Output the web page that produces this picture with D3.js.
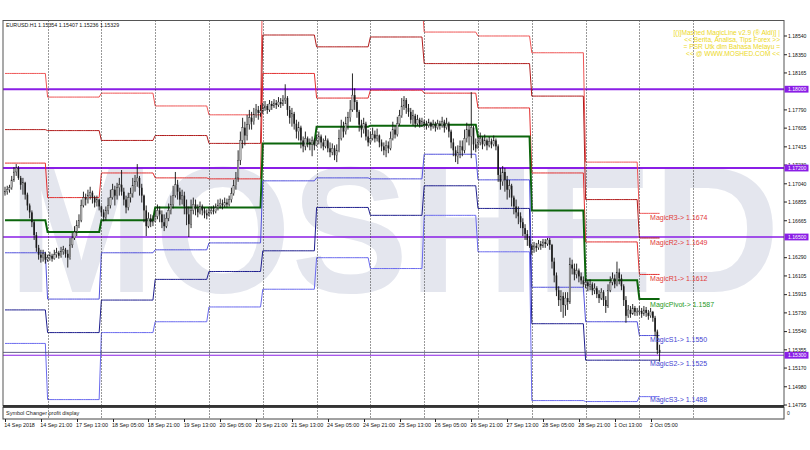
<!DOCTYPE html>
<html><head><meta charset="utf-8">
<script src="https://cdn.jsdelivr.net/npm/d3@7"></script>
<style>body{margin:0;background:#fff}svg{display:block}text{font-family:"Liberation Sans",Arial,sans-serif}</style>
</head><body><svg id="c" width="810" height="450"></svg>
<script>
const symbol = "EURUSD.H1";
const firstOpen = 1.1694;
const closes = [
1.1696,1.1698,1.1700,1.1708,1.1716,1.1720,1.1710,1.1703,1.1705,1.1693,1.1682,1.1675,1.1665,1.1652,1.1639,1.1632,1.1629,1.1633,1.1627,
1.1629,1.1631,1.1628,1.1632,1.1634,1.1631,1.1635,1.1637,1.1633,1.1629,1.1642,1.1649,1.1655,1.1662,1.1667,1.1682,1.1690,1.1688,1.1692,1.1695,1.1690,1.1685,1.1688,1.1681,
1.1675,1.1670,1.1677,1.1682,1.1690,1.1698,1.1692,1.1700,1.1703,1.1696,1.1688,1.1680,1.1690,1.1694,1.1702,1.1706,1.1710,1.1700,1.1692,1.1677,1.1661,1.1669,1.1665,1.1666,
1.1671,1.1677,1.1673,1.1665,1.1661,1.1669,1.1677,1.1683,1.1692,1.1703,1.1696,1.1688,1.1692,1.1681,1.1673,1.1663,1.1677,1.1683,1.1679,1.1675,1.1681,1.1677,1.1674,1.1672,
1.1675,1.1677,1.1676,1.1680,1.1682,1.1684,1.1682,1.1685,1.1683,1.1688,1.1694,1.1702,1.1710,1.1728,1.1748,1.1761,1.1753,1.1764,1.1771,1.1767,1.1774,1.1779,1.1776,1.1778,
1.1781,1.1783,1.1779,1.1785,1.1783,1.1786,1.1784,1.1787,1.1785,1.1789,1.1791,1.1779,1.1771,1.1775,1.1765,1.1757,1.1761,1.1748,1.1742,1.1750,1.1746,1.1744,1.1748,1.1743,
1.1748,1.1752,1.1746,1.1742,1.1748,1.1740,1.1736,1.1740,1.1733,1.1738,1.1750,1.1761,1.1757,1.1765,1.1771,1.1779,1.1794,1.1787,1.1777,1.1764,1.1759,1.1765,1.1752,1.1746,
1.1750,1.1754,1.1750,1.1753,1.1746,1.1742,1.1738,1.1743,1.1740,1.1750,1.1759,1.1754,1.1765,1.1773,1.1783,1.1789,1.1781,1.1777,1.1769,1.1773,1.1765,1.1769,1.1764,1.1767,
1.1765,1.1763,1.1766,1.1762,1.1764,1.1761,1.1765,1.1763,1.1767,1.1761,1.1765,1.1757,1.1746,1.1738,1.1732,1.1736,1.1742,1.1738,1.1750,1.1759,1.1752,1.1761,1.1744,1.1740,
1.1746,1.1750,1.1744,1.1748,1.1743,1.1747,1.1744,1.1748,1.1742,1.1713,1.1706,1.1716,1.1708,1.1698,1.1702,1.1690,1.1681,1.1675,1.1671,1.1665,1.1659,1.1653,1.1647,1.1641,
1.1637,1.1641,1.1639,1.1643,1.1641,1.1645,1.1643,1.1647,1.1642,1.1625,1.1611,1.1596,1.1586,1.1590,1.1581,1.1588,1.1584,1.1622,1.1618,1.1612,1.1616,1.1610,1.1606,1.1602,
1.1604,1.1600,1.1602,1.1596,1.1598,1.1592,1.1588,1.1594,1.1586,1.1580,1.1596,1.1604,1.1608,1.1602,1.1614,1.1608,1.1600,1.1586,1.1570,1.1576,1.1572,1.1578,1.1574,1.1574,
1.1575,1.1572,1.1576,1.1573,1.1570,1.1574,1.1568,1.1554,1.15354,1.15329];
const highs = [
1.1701,1.1702,1.1703,1.1712,1.1721,1.1724,1.1722,1.1712,1.1710,1.1706,1.1695,1.1684,1.1677,1.1667,1.1655,1.1642,1.1637,1.1637,1.1635,
1.1632,1.1635,1.1633,1.1637,1.1639,1.1636,1.1640,1.1641,1.1639,1.1637,1.1649,1.1654,1.1661,1.1667,1.1673,1.1688,1.1696,1.1694,1.1698,1.1701,1.1697,1.1692,1.1692,1.1689,
1.1682,1.1678,1.1681,1.1690,1.1698,1.1704,1.1702,1.1705,1.1710,1.1718,1.1700,1.1692,1.1695,1.1700,1.1710,1.1713,1.1724,1.1712,1.1704,1.1693,1.1682,1.1675,1.1673,1.1672,
1.1677,1.1683,1.1681,1.1677,1.1673,1.1675,1.1684,1.1692,1.1702,1.1716,1.1708,1.1700,1.1698,1.1696,1.1688,1.1681,1.1688,1.1690,1.1688,1.1683,1.1686,1.1683,1.1680,1.1678,
1.1680,1.1681,1.1682,1.1684,1.1688,1.1689,1.1688,1.1690,1.1689,1.1692,1.1700,1.1708,1.1716,1.1738,1.1757,1.1771,1.1767,1.1774,1.1779,1.1777,1.1781,1.1785,1.1783,1.1784,
1.1786,1.1788,1.1785,1.1789,1.1788,1.1790,1.1789,1.1792,1.1791,1.1794,1.1805,1.1793,1.1783,1.1781,1.1777,1.1769,1.1767,1.1763,1.1752,1.1757,1.1752,1.1750,1.1752,1.1750,
1.1754,1.1757,1.1754,1.1750,1.1753,1.1750,1.1746,1.1745,1.1743,1.1744,1.1759,1.1769,1.1767,1.1772,1.1777,1.1789,1.1816,1.1801,1.1789,1.1779,1.1769,1.1771,1.1767,1.1759,
1.1757,1.1761,1.1758,1.1760,1.1754,1.1749,1.1746,1.1748,1.1747,1.1757,1.1767,1.1763,1.1772,1.1779,1.1791,1.1793,1.1791,1.1785,1.1781,1.1779,1.1775,1.1774,1.1771,1.1771,
1.1769,1.1768,1.1770,1.1767,1.1769,1.1767,1.1769,1.1768,1.1772,1.1769,1.1771,1.1767,1.1759,1.1750,1.1742,1.1743,1.1748,1.1748,1.1759,1.1766,1.1764,1.1797,1.1763,1.1750,
1.1752,1.1756,1.1752,1.1754,1.1750,1.1752,1.1750,1.1753,1.1750,1.1744,1.1720,1.1722,1.1720,1.1712,1.1708,1.1704,1.1692,1.1688,1.1681,1.1675,1.1669,1.1663,1.1657,1.1651,
1.1643,1.1645,1.1644,1.1647,1.1646,1.1648,1.1648,1.1649,1.1649,1.1643,1.1629,1.1614,1.1600,1.1596,1.1594,1.1594,1.1594,1.1629,1.1627,1.1623,1.1623,1.1618,1.1614,1.1610,
1.1608,1.1606,1.1607,1.1604,1.1603,1.1600,1.1596,1.1598,1.1596,1.1590,1.1602,1.1610,1.1614,1.1612,1.1625,1.1618,1.1612,1.1602,1.1590,1.1581,1.1580,1.1582,1.1580,1.1578,
1.1580,1.1578,1.1580,1.1579,1.1576,1.1578,1.1575,1.1570,1.1556,1.15407];
const lows = [
1.1692,1.1693,1.1695,1.1698,1.1706,1.1712,1.1708,1.1698,1.1693,1.1688,1.1677,1.1669,1.1660,1.1647,1.1635,1.1627,1.1624,1.1625,1.1623,
1.1625,1.1626,1.1625,1.1627,1.1629,1.1628,1.1629,1.1632,1.1629,1.1619,1.1627,1.1639,1.1647,1.1651,1.1659,1.1665,1.1680,1.1682,1.1684,1.1688,1.1684,1.1680,1.1681,1.1677,
1.1671,1.1666,1.1667,1.1673,1.1679,1.1688,1.1682,1.1688,1.1692,1.1692,1.1682,1.1674,1.1677,1.1685,1.1690,1.1696,1.1701,1.1692,1.1685,1.1665,1.1651,1.1659,1.1660,1.1661,
1.1665,1.1668,1.1665,1.1659,1.1656,1.1659,1.1666,1.1673,1.1679,1.1690,1.1688,1.1682,1.1683,1.1673,1.1662,1.1650,1.1659,1.1673,1.1672,1.1670,1.1673,1.1672,1.1669,1.1668,
1.1671,1.1673,1.1673,1.1674,1.1677,1.1679,1.1678,1.1680,1.1680,1.1681,1.1685,1.1692,1.1698,1.1706,1.1723,1.1740,1.1743,1.1748,1.1759,1.1759,1.1764,1.1771,1.1769,1.1772,
1.1775,1.1778,1.1775,1.1777,1.1779,1.1781,1.1780,1.1782,1.1781,1.1783,1.1785,1.1773,1.1765,1.1762,1.1759,1.1750,1.1748,1.1740,1.1736,1.1738,1.1741,1.1738,1.1732,1.1738,
1.1742,1.1744,1.1740,1.1738,1.1740,1.1736,1.1731,1.1733,1.1728,1.1726,1.1736,1.1748,1.1751,1.1754,1.1759,1.1767,1.1777,1.1779,1.1771,1.1757,1.1751,1.1755,1.1748,1.1742,
1.1744,1.1748,1.1746,1.1747,1.1741,1.1737,1.1733,1.1731,1.1735,1.1738,1.1748,1.1750,1.1752,1.1763,1.1771,1.1779,1.1775,1.1772,1.1765,1.1763,1.1761,1.1763,1.1761,1.1762,
1.1761,1.1759,1.1761,1.1758,1.1760,1.1757,1.1759,1.1759,1.1761,1.1756,1.1759,1.1751,1.1740,1.1732,1.1726,1.1724,1.1730,1.1732,1.1735,1.1746,1.1743,1.1730,1.1738,1.1736,
1.1740,1.1743,1.1739,1.1742,1.1738,1.1741,1.1740,1.1742,1.1738,1.1706,1.1698,1.1702,1.1696,1.1688,1.1690,1.1681,1.1673,1.1669,1.1663,1.1659,1.1651,1.1647,1.1641,1.1639,
1.1632,1.1634,1.1635,1.1637,1.1637,1.1639,1.1639,1.1641,1.1637,1.1618,1.1604,1.1590,1.1580,1.1574,1.1568,1.1570,1.1576,1.1582,1.1612,1.1606,1.1608,1.1604,1.1602,1.1599,
1.1598,1.1595,1.1596,1.1591,1.1592,1.1588,1.1583,1.1586,1.1580,1.1573,1.1578,1.1594,1.1601,1.1598,1.1600,1.1602,1.1596,1.1580,1.1563,1.1568,1.1568,1.1571,1.1570,1.1570,
1.1571,1.1568,1.1570,1.1569,1.1566,1.1568,1.1564,1.1549,1.1531,1.15236];

// first bar index of each trading day, plus the next (future) day boundary
const sessionStart = [0,19,43,67,91,115,139,163,187,211,235,259,283];
const gridBars = [19,43,67,91,115,139,163,187,211,235,259,283,307];
const timeLabels = ["14 Sep 2018","14 Sep 21:00","17 Sep 13:00","18 Sep 05:00","18 Sep 21:00","19 Sep 13:00","20 Sep 05:00","20 Sep 21:00","21 Sep 13:00","24 Sep 05:00","24 Sep 21:00","25 Sep 13:00","26 Sep 05:00","26 Sep 21:00","27 Sep 13:00","28 Sep 05:00","28 Sep 21:00","1 Oct 13:00","2 Oct 05:00"];
const timeLabelBars = [0,16,32,48,64,80,96,112,128,144,160,176,192,208,224,240,256,272,288];

// daily MagicLine levels
const r3 = [1.1816,1.1792,1.1796,1.1783,1.1774,1.1926,1.1872,1.1889,1.1858,1.1854,1.1837,1.1726,1.1674];
const r2 = [1.1759,1.1758,1.1748,1.1753,1.1745,1.1855,1.1843,1.1853,1.1826,1.1826,1.1793,1.1688,1.1649];
const r1 = [1.1725,1.1690,1.1715,1.1710,1.1709,1.1816,1.1791,1.1799,1.1796,1.1781,1.1715,1.1645,1.1612];
const pv = [1.1667,1.1655,1.1667,1.1680,1.1680,1.1745,1.1762,1.1763,1.1764,1.1752,1.1677,1.1606,1.1587];
const s1 = [1.1634,1.1587,1.1634,1.1637,1.1644,1.1707,1.1710,1.1709,1.1734,1.1708,1.1599,1.1564,1.1550];
const s2 = [1.1576,1.1553,1.1586,1.1607,1.1615,1.1636,1.1680,1.1672,1.1702,1.1679,1.1562,1.1525,1.1525];
const s3 = [1.1542,1.1485,1.1553,1.1564,1.1579,1.1597,1.1629,1.1618,1.1672,1.1635,1.1484,1.1483,1.1488];

const keyLevels = [1.18000,1.17200,1.16500,1.15300];
const priceTicks = [1.18540,1.18350,1.18165,1.17790,1.17605,1.17415,1.17230,1.17040,1.16855,1.16665,1.16290,1.16105,1.15915,1.15730,1.15540,1.15355,1.15170,1.14980,1.14795];
const infoLines = ["[()]Mashed MagicLine v2.9 (\u00ae Aldi)] |","<< Berita, Analisa, Tips Forex >>","= PSR Utk dlm Bahasa Melayu =","<< @ WWW.MOSHED.COM <<"];
const watermark = "MOSHED";
const subWindowTitle = "Symbol Changer profit display";

// ---------------- drawing ----------------
const svg = d3.select("#c");
const P = {left:3, right:784, top:20.5, bottom:406};
const x = d3.scaleLinear().domain([0,307]).range([5, 5+307*2.2417]);
const y = d3.scaleLinear().domain([1.147849,1.186973]).range([P.bottom, P.top]);

svg.append("rect").attr("width",810).attr("height",450).attr("fill","#fff");
const defs = svg.append("defs");
defs.append("clipPath").attr("id","clip").append("rect")
  .attr("x",P.left).attr("y",P.top).attr("width",P.right-P.left).attr("height",P.bottom-P.top);

const g = svg.append("g").attr("clip-path","url(#clip)");

// watermark
g.append("text").text(watermark)
  .attr("x",8).attr("y",292)
  .attr("textLength",772).attr("lengthAdjust","spacingAndGlyphs")
  .attr("font-family","DejaVu Sans").attr("font-weight","bold")
  .attr("font-size",180).attr("fill","#e4e6ee");

// grid
svg.append("g").selectAll("line").data(gridBars).join("line")
  .attr("x1",d=>Math.round(x(d))+0.5).attr("x2",d=>Math.round(x(d))+0.5)
  .attr("y1",P.top).attr("y2",419)
  .attr("stroke","#333").attr("stroke-width",1).attr("stroke-dasharray","1,2");

// key purple levels
const kw = [2,2,1.6,1];
g.selectAll("line.key").data(keyLevels).join("line").attr("class","key")
  .attr("x1",P.left).attr("x2",P.right)
  .attr("y1",d=>y(d)).attr("y2",d=>y(d))
  .attr("stroke","#8a1ee6").attr("stroke-width",(d,i)=>kw[i]);

// pivot step lines
const nBars = closes.length;
function dayOf(i){ let k=0; for(let j=0;j<sessionStart.length;j++){ if(i>=sessionStart[j]) k=j; } return k; }
const barIdx = d3.range(nBars);
const levelSets = [
  {v:r3,c:"#ee5555",w:1},{v:r2,c:"#b01c1c",w:1},{v:r1,c:"#e23030",w:1},
  {v:pv,c:"#0b650b",w:2},
  {v:s1,c:"#5252dc",w:1},{v:s2,c:"#1f1f8e",w:1},{v:s3,c:"#6a6aee",w:1}
];
levelSets.forEach(L=>{
  const ln = d3.line().x(i=>x(i)).y(i=>y(L.v[dayOf(i)]));
  g.append("path").attr("d",ln(barIdx)).attr("fill","none")
    .attr("stroke",L.c).attr("stroke-width",L.w);
});

// bid line
g.append("line").attr("x1",P.left).attr("x2",P.right)
  .attr("y1",y(closes[nBars-1])).attr("y2",y(closes[nBars-1]))
  .attr("stroke","#3a3a6a").attr("stroke-width",0.8);

// candles
const opens = barIdx.map(i=> i===0 ? firstOpen : closes[i-1]);
const cg = g.append("g");
barIdx.forEach(i=>{
  const cx = x(i);
  cg.append("line").attr("x1",cx).attr("x2",cx)
    .attr("y1",y(highs[i])).attr("y2",y(lows[i]))
    .attr("stroke","#111").attr("stroke-width",0.9);
  const o=opens[i], c=closes[i];
  const top = y(Math.max(o,c)), bot = y(Math.min(o,c));
  cg.append("rect").attr("x",cx-0.8).attr("width",1.6)
    .attr("y",top).attr("height",Math.max(0.8,bot-top))
    .attr("fill", c>=o ? "#b8b8b8" : "#1a1a1a")
    .attr("stroke", c>=o ? "#222" : "none").attr("stroke-width",0.3);
});

// level labels at last day
const lastDay = sessionStart.length-1;
const labelDefs = [
  {n:"MagicR3",v:r3,c:"#e23a3a",dy:7},{n:"MagicR2",v:r2,c:"#e23a3a",dy:7},{n:"MagicR1",v:r1,c:"#e23a3a",dy:7},
  {n:"MagicPivot",v:pv,c:"#1f9a1f",dy:7.5},
  {n:"MagicS1",v:s1,c:"#4343d2",dy:6},{n:"MagicS2",v:s2,c:"#4343d2",dy:6},{n:"MagicS3",v:s3,c:"#4343d2",dy:5}
];
labelDefs.forEach(L=>{
  svg.append("text").text(L.n+"-> "+L.v[lastDay].toFixed(4))
    .attr("x",x(nBars-1)-9.5).attr("y",y(L.v[lastDay])+L.dy)
    .attr("font-size",7).attr("fill",L.c);
});

// info text box
infoLines.forEach((t,i)=>{
  svg.append("text").text(t).attr("x",780).attr("y",35+i*6.9)
    .attr("text-anchor","end").attr("font-size",6.6).attr("fill","#ecd81e");
});

// header
svg.append("text")
  .text(symbol+" "+[opens[nBars-1],highs[nBars-1],lows[nBars-1],closes[nBars-1]].map(v=>v.toFixed(5)).join(" "))
  .attr("x",6).attr("y",27).attr("font-size",5.3).attr("fill","#111");

// frame
svg.append("rect").attr("x",P.left).attr("y",P.top).attr("width",P.right-P.left).attr("height",P.bottom-P.top)
  .attr("fill","none").attr("stroke","#555").attr("stroke-width",1);
svg.append("line").attr("x1",P.left).attr("x2",P.right).attr("y1",406).attr("y2",406)
  .attr("stroke","#333").attr("stroke-width",2);
svg.append("rect").attr("x",P.left).attr("y",407.5).attr("width",P.right-P.left).attr("height",11.5)
  .attr("fill","none").attr("stroke","#444").attr("stroke-width",1);
svg.append("text").text(subWindowTitle).attr("x",6).attr("y",415).attr("font-size",5.5).attr("fill","#222");
svg.append("text").text("0").attr("x",787).attr("y",415).attr("font-size",5).attr("fill","#222");

// right price axis
const ax = svg.append("g");
priceTicks.forEach(v=>{
  ax.append("line").attr("x1",P.right).attr("x2",P.right+3).attr("y1",y(v)).attr("y2",y(v)).attr("stroke","#222");
  ax.append("text").text(v.toFixed(5)).attr("x",788).attr("y",y(v)+1.8).attr("font-size",5.1).attr("fill","#111");
});
keyLevels.forEach(v=>{
  ax.append("rect").attr("x",P.right+0.5).attr("y",y(v)-3.4).attr("width",24).attr("height",6.8).attr("fill","#8a1ee6");
  ax.append("text").text(v.toFixed(5)).attr("x",788).attr("y",y(v)+1.8).attr("font-size",5.1).attr("fill","#fff");
});

// bottom time axis
timeLabels.forEach((t,i)=>{
  const bx = x(timeLabelBars[i]);
  svg.append("line").attr("x1",Math.round(bx)+0.5).attr("x2",Math.round(bx)+0.5).attr("y1",419).attr("y2",422).attr("stroke","#222");
  svg.append("text").text(t).attr("x",bx-0.7).attr("y",426.5).attr("font-size",5.4).attr("fill","#111");
});
</script></body></html>
